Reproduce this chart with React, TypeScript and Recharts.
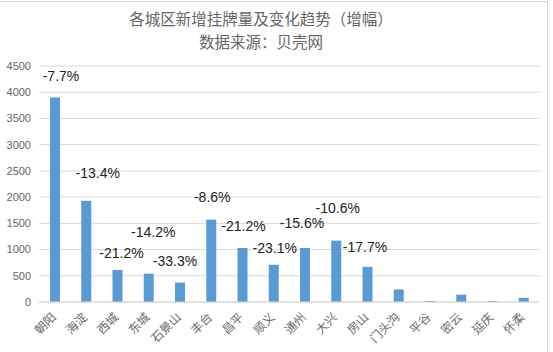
import { BarChart, Bar, CartesianGrid, XAxis, YAxis, LabelList } from "recharts";

const districts = [
  "朝阳", "海淀", "西城", "东城", "石景山", "丰台", "昌平", "顺义",
  "通州", "大兴", "房山", "门头沟", "平谷", "密云", "延庆", "怀柔",
];
const listings = [3900, 1930, 610, 540, 370, 1570, 1030, 710, 1030, 1170, 670, 240, 20, 140, 15, 80];
const growth = [-7.7, -13.4, -21.2, -14.2, -33.3, -8.6, -21.2, -23.1, -15.6, -10.6, -17.7, null, null, null, null, null];
const yTicks = [0, 500, 1000, 1500, 2000, 2500, 3000, 3500, 4000, 4500];

// labels were dragged around by hand in the original, so nudge each one
const labelDx = [6, 11.5, 4, 4.5, -5, 1, 1, 1, -3, 1.5, -2.5, 0, 0, 0, 0, 0];
const labelDy = [-21, -28, -17, -42, -22, -23, -22, -17, -25, -33, -20, 0, 0, 0, 0, 0];

const data = districts.map((name, i) => ({ name, listings: listings[i], growth: growth[i] }));

const GrowthLabel = (props: any) => {
  const { x, y, width, index } = props;
  const g = growth[index];
  if (g == null) return null;
  return (
    <text
      x={x + width / 2 + labelDx[index]}
      y={y + labelDy[index]}
      textAnchor="middle"
      dominantBaseline="central"
      fontSize={14}
      fontFamily="Liberation Sans, Arial, sans-serif"
      fill="#222"
    >
      {g.toFixed(1) + "%"}
    </text>
  );
};

const DistrictTick = (props: any) => {
  const { x, y, payload } = props;
  return (
    <text
      x={x + 2}
      y={y + 8}
      textAnchor="end"
      fontSize={12}
      fontFamily="Noto Sans CJK SC, sans-serif"
      fill="#6b6b6b"
      transform={`rotate(-45 ${x + 2} ${y + 8})`}
    >
      {payload.value}
    </text>
  );
};

export default function App() {
  return (
    <div style={{ position: "fixed", left: 0, top: 0, width: 553, height: 352, background: "#fff" }}>
      <div
        style={{
          position: "absolute",
          left: 0,
          top: 1,
          width: 548,
          height: 351,
          borderTop: "1px solid #d9d9d9",
          borderRight: "1px solid #d9d9d9",
          boxSizing: "border-box",
        }}
      />
      <div
        style={{
          position: "absolute",
          left: 0,
          width: 522,
          top: 7,
          textAlign: "center",
          fontFamily: "Noto Sans CJK SC, sans-serif",
          fontSize: 15.5,
          lineHeight: "23px",
          color: "#666",
        }}
      >
        <div>各城区新增挂牌量及变化趋势（增幅）</div>
        <div>数据来源：贝壳网</div>
      </div>
      <BarChart
        width={553}
        height={352}
        data={data}
        margin={{ top: 66, right: 14, bottom: 0, left: 0 }}
        style={{ position: "absolute", left: 0, top: 0 }}
      >
        <CartesianGrid vertical={false} stroke="#d9d9d9" />
        <XAxis
          dataKey="name"
          interval={0}
          height={50}
          tickLine={false}
          axisLine={{ stroke: "#d9d9d9" }}
          tick={<DistrictTick />}
        />
        <YAxis
          width={39}
          domain={[0, 4500]}
          ticks={yTicks}
          axisLine={false}
          tickLine={false}
          tick={{ fill: "#666", fontSize: 11, fontFamily: "Liberation Sans, Arial, sans-serif" }}
        />
        <Bar dataKey="listings" fill="#5B9BD5" barSize={10} isAnimationActive={false}>
          <LabelList dataKey="growth" content={<GrowthLabel />} />
        </Bar>
      </BarChart>
    </div>
  );
}
